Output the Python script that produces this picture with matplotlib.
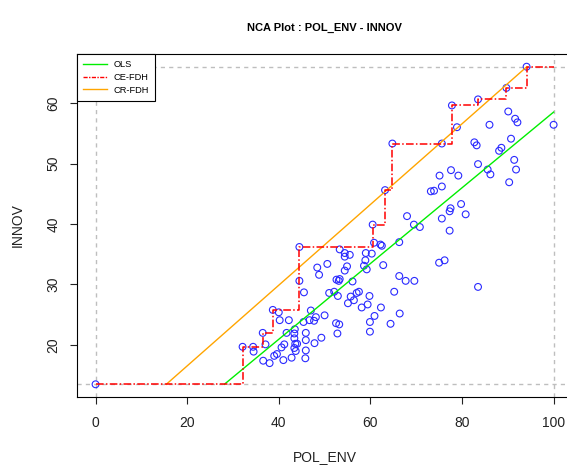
import matplotlib
matplotlib.use("Agg")
import matplotlib.pyplot as plt
import numpy as np
from matplotlib.lines import Line2D

# values
pol_env = [
    0.0, 32.1, 34.4, 34.5, 36.5, 37.1, 36.6, 38.0, 38.7, 39.0,
    39.6, 40.0, 40.2, 40.6, 41.2, 41.0, 41.7, 42.2, 42.8, 43.5,
    43.4, 43.4, 43.6, 44.0, 43.4, 43.7, 44.5, 44.5, 45.5, 45.4,
    45.9, 45.9, 45.9, 45.8, 46.7, 47.0, 47.7, 48.1, 47.8, 48.4,
    48.8, 49.3, 50.0, 50.6, 51.0, 52.1, 52.9, 52.6, 53.1, 53.3,
    52.5, 53.2, 52.8, 53.3, 54.4, 54.4, 55.5, 54.9, 54.4, 55.1,
    55.7, 56.4, 57.0, 57.5, 56.1, 58.1, 59.4, 59.8, 58.9, 58.6,
    59.2, 59.0, 60.3, 60.5, 60.8, 62.2, 62.5, 62.8, 60.9, 59.9,
    59.9, 62.3, 63.2, 64.4, 64.8, 65.2, 66.3, 66.3, 66.4, 67.7,
    69.6, 68.0, 69.5, 70.8, 73.2, 73.9, 75.6, 75.1, 75.6, 75.0,
    75.6, 76.2, 77.3, 77.5, 77.3, 77.6, 77.8, 78.9, 79.2, 79.8,
    80.8, 82.7, 83.2, 83.5, 83.5, 83.5, 85.6, 86.0, 86.2, 88.1,
    88.6, 89.7, 90.1, 90.3, 90.7, 91.4, 91.6, 91.8, 92.1, 94.1,
    100.0,
]
innov = [
    13.5, 19.7, 19.7, 18.9, 22.0, 20.1, 17.4, 17.0, 25.8, 18.2,
    18.5, 25.4, 24.1, 19.6, 20.1, 17.5, 22.0, 24.1, 17.9, 22.6,
    21.9, 21.1, 20.2, 20.2, 19.5, 19.0, 30.6, 36.2, 28.7, 23.8,
    22.0, 20.8, 19.1, 17.8, 24.1, 25.7, 24.0, 24.6, 20.3, 32.8,
    31.6, 21.2, 24.9, 33.4, 28.6, 28.8, 28.1, 30.8, 30.6, 30.9,
    23.6, 23.4, 21.9, 35.8, 35.2, 34.6, 34.9, 33.0, 32.3, 26.9,
    28.0, 27.4, 28.6, 28.8, 30.5, 26.2, 26.7, 28.1, 34.0, 33.1,
    32.5, 35.2, 35.1, 39.9, 36.9, 36.6, 36.4, 33.2, 24.8, 23.8,
    22.2, 26.2, 45.6, 23.5, 53.3, 28.8, 37.0, 31.4, 25.2, 30.6,
    30.6, 41.3, 39.9, 39.5, 45.4, 45.5, 46.2, 48.0, 40.9, 33.6,
    53.3, 34.0, 38.9, 42.6, 42.1, 48.9, 59.6, 56.0, 48.0, 43.3,
    41.6, 53.5, 53.0, 49.9, 29.6, 60.6, 49.0, 56.4, 48.2, 52.1,
    52.6, 62.5, 58.6, 46.9, 54.1, 50.6, 57.4, 49.0, 56.8, 66.0,
    56.4,
]

# ceiling / regression lines (intercept, slope)
ols_line = (-4.1, 0.626)
cr_fdh_line = (3.2, 0.667)

plt.rcParams["font.family"] = ["Liberation Sans", "DejaVu Sans"]

x = np.array(pol_env)
y = np.array(innov)
x_min, x_max = x.min(), x.max()
y_min, y_max = y.min(), y.max()
pad_x = 0.04 * (x_max - x_min)
pad_y = 0.04 * (y_max - y_min)

fig = plt.figure(figsize=(5.67, 4.68), dpi=100)
ax = fig.add_axes([0.1362, 0.1517, 0.8725, 0.7329])
ax.set_xlim(x_min - pad_x, x_max + pad_x)
ax.set_ylim(y_min - pad_y, y_max + pad_y)

# scope box
scope_style = dict(color="#bebebe", linewidth=1.0, linestyle=(0, (3, 3)), zorder=1)
ax.axhline(y_min, **scope_style)
ax.axhline(y_max, **scope_style)
ax.axvline(x_min, **scope_style)
ax.axvline(x_max, **scope_style)

ax.scatter(x, y, s=24, facecolors="none", edgecolors="#2a2aff",
           linewidths=0.8, zorder=2)


def scope_segment(coef):
    b, a = coef
    x_lo = max(x_min, (y_min - b) / a)
    x_hi = min(x_max, (y_max - b) / a)
    xs = np.array([x_lo, x_hi])
    return xs, b + a * xs


xs, ys = scope_segment(ols_line)
ax.plot(xs, ys, color="#00ee00", linewidth=1.0, zorder=3)

xs, ys = scope_segment(cr_fdh_line)
ax.plot(xs, ys, color="#ffa500", linewidth=1.0, zorder=3)

# CE-FDH: running maximum of INNOV over sorted POL_ENV
order = np.argsort(x, kind="stable")
ax.step(x[order], np.maximum.accumulate(y[order]), where="post",
        color="red", linewidth=1.1, linestyle=(0, (5, 1.5, 1, 1.5)), zorder=4)

ax.set_xticks([0, 20, 40, 60, 80, 100])
ax.set_yticks([20, 30, 40, 50, 60])
ax.tick_params(axis="both", length=5, width=0.8, labelsize=10, pad=9,
               colors="#222222")
ax.tick_params(axis="y", pad=7)
for lab in ax.get_yticklabels():
    lab.set_rotation(90)
    lab.set_va("center")
for sp in ax.spines.values():
    sp.set_linewidth(0.8)

ax.set_xlabel("POL_ENV", fontsize=10, color="#222222", va="center")
ax.xaxis.set_label_coords(0.5, -0.174)
ax.set_ylabel("INNOV", fontsize=10, color="#222222", va="center", ha="center")
ax.yaxis.set_label_coords(-0.12, 0.5)

fig.text(0.5724, 0.940, "NCA Plot : POL_ENV - INNOV", ha="center", va="center",
         fontsize=8, fontweight="bold")

handles = [
    Line2D([], [], color="#00ee00", linewidth=1.0),
    Line2D([], [], color="red", linewidth=1.0, linestyle=(0, (3, 1, 1, 1))),
    Line2D([], [], color="#ffa500", linewidth=1.0),
]
leg = ax.legend(handles, ["OLS", "CE-FDH", "CR-FDH"], loc="upper left",
                bbox_to_anchor=(0, 1), borderaxespad=0, fontsize=6.7,
                fancybox=False, framealpha=1, edgecolor="black",
                handlelength=2.5, borderpad=0.65, labelspacing=0.4)
leg.get_frame().set_linewidth(0.8)

fig.savefig("out.png", dpi=100)
